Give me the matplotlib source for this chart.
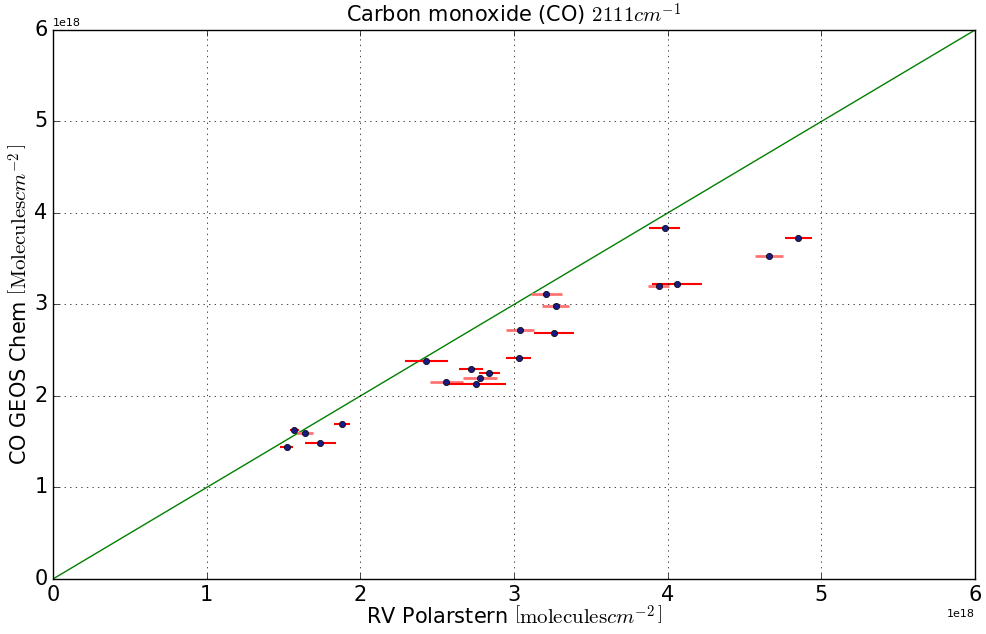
import numpy as np
import matplotlib
matplotlib.use("Agg")
import matplotlib.pyplot as plt

plt.style.use('classic')

# ship (x) vs model (y) columns, units of 1e18 molecules/cm2
ship_a = np.array([1.52, 1.57, 1.74, 1.88, 2.43, 2.72, 2.84, 2.75, 3.03, 3.26, 3.98, 4.85, 4.06]) * 1e18
geos_a = np.array([1.44, 1.63, 1.49, 1.69, 2.38, 2.30, 2.25, 2.13, 2.42, 2.69, 3.84, 3.73, 3.22]) * 1e18
err_a = np.array([0.04, 0.03, 0.10, 0.05, 0.14, 0.08, 0.07, 0.20, 0.08, 0.13, 0.10, 0.09, 0.16]) * 1e18

ship_b = np.array([1.64, 2.78, 2.56, 3.21, 3.27, 3.04, 4.66, 3.94]) * 1e18
geos_b = np.array([1.60, 2.20, 2.15, 3.11, 2.98, 2.72, 3.53, 3.20]) * 1e18
err_b = np.array([0.05, 0.11, 0.11, 0.10, 0.09, 0.09, 0.09, 0.07]) * 1e18

fig = plt.figure(figsize=(9.87, 6.34), dpi=100, facecolor='white')
ax = fig.add_axes([0.0537, 0.0868, 0.9343, 0.866])

ax.plot([0, 6e18], [0, 6e18], color='g', lw=1)
ax.errorbar(ship_b, geos_b, xerr=err_b, fmt='o', color='#1a1a80', mec='k',
            ms=4.5, ecolor=(1, 0.45, 0.45), elinewidth=2, capsize=0)
ax.errorbar(ship_a, geos_a, xerr=err_a, fmt='o', color='#1a1a80', mec='k',
            ms=4.5, ecolor='r', elinewidth=1.5, capsize=0)

ax.set_xlim(0, 6e18)
ax.set_ylim(0, 6e18)
ax.grid(True, color='k', linestyle=':')
ax.tick_params(labelsize=15)
ax.xaxis.get_offset_text().set_fontsize(8)
ax.yaxis.get_offset_text().set_fontsize(8)
ax.set_title(r'Carbon monoxide (CO) $2111cm^{-1}$', fontsize=15)
ax.set_xlabel(r'RV Polarstern $\left[\mathrm{molecules} cm^{-2}\,\right]$', fontsize=15, labelpad=0)
ax.set_ylabel(r'CO GEOS Chem $\left[\mathrm{Molecules} cm^{-2}\,\right]$', fontsize=15, labelpad=2)

fig.savefig('out.png', dpi=100, facecolor='white')
